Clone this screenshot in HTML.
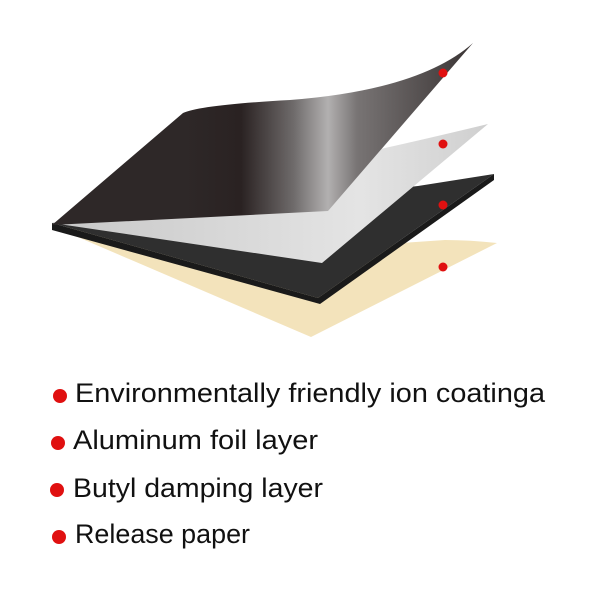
<!DOCTYPE html>
<html><head><style>html,body{margin:0;padding:0;background:#fff;}</style></head>
<body>
<svg width="600" height="600" viewBox="0 0 600 600" xmlns="http://www.w3.org/2000/svg">
<defs>
<linearGradient id="dk" x1="183" y1="0" x2="473" y2="0" gradientUnits="userSpaceOnUse">
<stop offset="0" stop-color="#2e2828"/>
<stop offset="0.2" stop-color="#2a2222"/>
<stop offset="0.38" stop-color="#6e6a6a"/>
<stop offset="0.5" stop-color="#b2b0b0"/>
<stop offset="0.6" stop-color="#787474"/>
<stop offset="1" stop-color="#3a3434"/>
</linearGradient>
<linearGradient id="gr" x1="60" y1="0" x2="490" y2="0" gradientUnits="userSpaceOnUse">
<stop offset="0" stop-color="#c8c8c8"/>
<stop offset="0.7" stop-color="#e4e4e4"/>
<stop offset="1" stop-color="#cfcfcf"/>
</linearGradient>
</defs>
<path d="M52,226 L311,337 L497,243 Q470,240 445,240 L300,250 Z" fill="#f3e3bb"/>
<path d="M52,223 L318,298 L494,174 L494,180 L320,304 L52,230 Z" fill="#1a1a1a"/>
<path d="M52,223 L318,298 L494,174 L418,186 L200,210 Z" fill="#2f2f2f"/>
<path d="M52,223 L322,263 L488,124 Q430,138 385,148 L200,200 Z" fill="url(#gr)"/>
<path d="M52,225 L183,113 Q200,105 290,100 Q420,90 473,43 L328,211 Z" fill="url(#dk)"/>
<g fill="#e01010">
<circle cx="443" cy="73" r="4.5"/><circle cx="443" cy="144" r="4.5"/>
<circle cx="443" cy="205" r="4.5"/><circle cx="443" cy="267" r="4.5"/>
<circle cx="60" cy="396" r="7"/><circle cx="58" cy="443" r="7"/>
<circle cx="57" cy="490" r="7"/><circle cx="59" cy="537" r="7"/>
</g>
<g font-family="Liberation Sans, sans-serif" font-size="27" fill="#111">
<text x="75" y="402" textLength="470" lengthAdjust="spacingAndGlyphs">Environmentally friendly ion coatinga</text>
<text x="73" y="449" textLength="245" lengthAdjust="spacingAndGlyphs">Aluminum foil layer</text>
<text x="73" y="497" textLength="250" lengthAdjust="spacingAndGlyphs">Butyl damping layer</text>
<text x="75" y="543" textLength="175" lengthAdjust="spacingAndGlyphs">Release paper</text>
</g>
</svg>
</body></html>
